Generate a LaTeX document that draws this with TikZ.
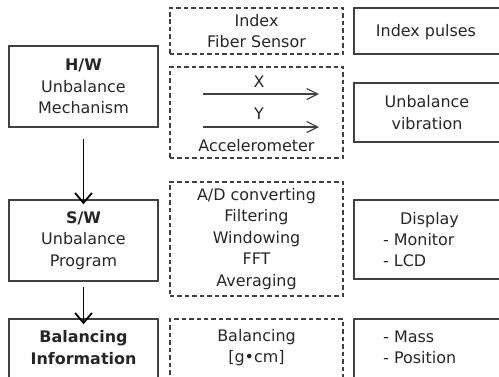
\documentclass[tikz,border=0pt]{standalone}
\usepackage{fontspec}
\setmainfont{DejaVu Sans}
\usetikzlibrary{arrows.meta}
\begin{document}
\begin{tikzpicture}[x=1bp,y=-1bp,
  every node/.style={font=\fontsize{16}{21.5}\selectfont, text=black!85, inner sep=0pt},
  solidbox/.style={draw=black!75, line width=1.4pt, rectangle},
  dashbox/.style={draw=black!75, line width=1.2pt, dash pattern=on 4.5pt off 3pt, rectangle},
  flowarrow/.style={draw=black, line width=1.8pt, -{Straight Barb[length=10pt,width=17pt,line width=1.8pt]}},
  sigarrow/.style={draw=black!75, line width=1.2pt, -{Straight Barb[length=11pt,width=11pt,line width=1.2pt]}}
]
\useasboundingbox (0,0) rectangle (499,376);
\clip (0,0) rectangle (499,376);
% left column
\node[solidbox, minimum width=149bp, minimum height=81bp, align=center] (hw) at (83.5,86.5) {\textbf{H/W}\\Unbalance\\Mechanism};
\node[solidbox, minimum width=149bp, minimum height=81bp, align=center] (sw) at (83.5,240.5) {\textbf{S/W}\\Unbalance\\Program};
\node[solidbox, minimum width=149bp, minimum height=81bp] (bi) at (83.5,359.5) {};
\node[align=center] (bitxt) at (83.5,347.5) {\textbf{Balancing}\\\textbf{Information}};
\draw[flowarrow] (hw.south) ++(0,11) coordinate (a1s) -- ([yshift=-5]sw.north);
\draw[flowarrow] (sw.south) ++(0,5) coordinate (a2s) -- ([yshift=-6]bi.north);
% middle column
\node[dashbox, minimum width=173bp, minimum height=46bp, align=center] (idx) at (256.5,31) {Index\\Fiber Sensor};
\node[dashbox, minimum width=173bp, minimum height=91bp] (acc) at (256.5,112.5) {};
\node (xl) at (259,82) {X};
\node (yl) at (259,114) {Y};
\node (accl) at (256.5,146) {Accelerometer};
\coordinate (xa) at (203,94);
\coordinate (xb) at (319,94);
\coordinate (ya) at (203,127);
\coordinate (yb) at (319,127);
\draw[sigarrow] (xa) -- (xb);
\draw[sigarrow] (ya) -- (yb);
\node[dashbox, minimum width=173bp, minimum height=114bp, align=center] (ad) at (256.5,239) {A/D converting\\Filtering\\Windowing\\FFT\\Averaging};
\node[dashbox, minimum width=173bp, minimum height=81bp] (bal) at (256.5,359.5) {};
\node[align=center] (baltxt) at (256.5,347.5) {Balancing\\{[g•cm]}};
% right column
\node[solidbox, minimum width=160bp, minimum height=46bp] (ip) at (434,31) {};
\node (iptxt) at (426,32) {Index pulses};
\node[solidbox, minimum width=160bp, minimum height=59bp] (uv) at (434,112.5) {};
\node[align=center] (uvtxt) at (427,112.5) {Unbalance\\vibration};
\node[solidbox, minimum width=160bp, minimum height=79bp] (disp) at (434,239.5) {};
\node[align=left] (disptxt) at (421,239.5) {\hspace*{17bp}Display\\- Monitor\\- LCD};
\node[solidbox, minimum width=160bp, minimum height=81bp] (mp) at (434,359.5) {};
\node[align=left, anchor=west] (mptxt) at (383,347.5) {- Mass\\- Position};
\end{tikzpicture}
\end{document}
